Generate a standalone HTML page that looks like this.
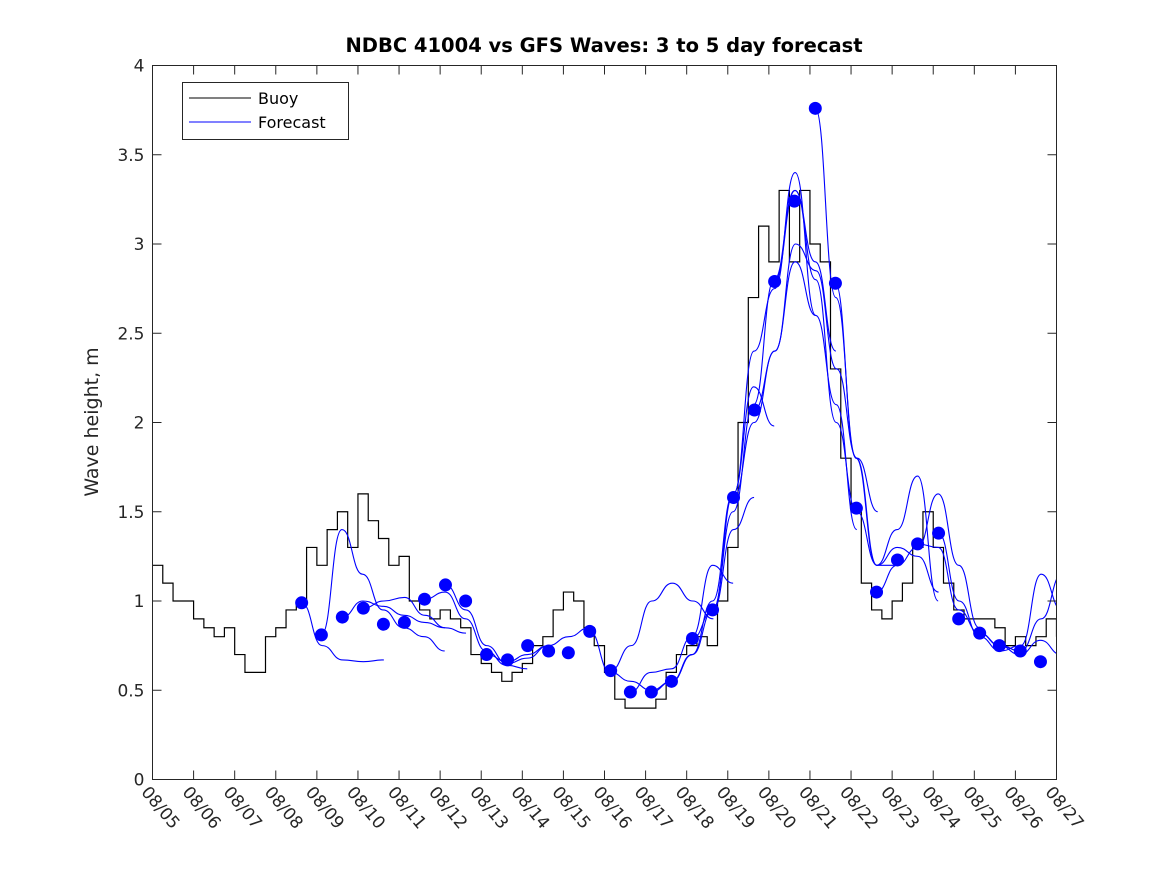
<!DOCTYPE html>
<html><head><meta charset="utf-8"><style>
body{margin:0;background:#fff;}
svg text{font-family:"DejaVu Sans","Liberation Sans",sans-serif;}
</style></head><body>
<svg id="chart" width="1167" height="875" xmlns="http://www.w3.org/2000/svg">
<defs><clipPath id="plotclip"><rect x="152.5" y="65.5" width="904" height="714"/></clipPath></defs>
<rect width="1167" height="875" fill="#fff"/>
<text x="604" y="52" text-anchor="middle" font-size="19.5" font-weight="bold" fill="#000">NDBC 41004 vs GFS Waves: 3 to 5 day forecast</text>
<text transform="translate(98,422) rotate(-90)" text-anchor="middle" font-size="19" fill="#262626">Wave height, m</text>
<g id="buoy" clip-path="url(#plotclip)"></g>
<g id="fc" clip-path="url(#plotclip)"></g>
<g id="dots"></g>
<rect x="152.5" y="65.5" width="904" height="714" fill="none" stroke="#262626" stroke-width="1"/>
<g id="ticks"></g>
<g>
<rect x="182.5" y="82.5" width="166" height="57" fill="#fff" stroke="#262626"/>
<line x1="189" y1="98" x2="251" y2="98" stroke="#000"/>
<text x="258" y="104" font-size="16" fill="#000">Buoy</text>
<line x1="189" y1="122" x2="251" y2="122" stroke="#0000ff"/>
<text x="258" y="128" font-size="16" fill="#000">Forecast</text>
</g>
</svg>
<script>
const xTickLabels=["08/05","08/06","08/07","08/08","08/09","08/10","08/11","08/12","08/13","08/14","08/15","08/16","08/17","08/18","08/19","08/20","08/21","08/22","08/23","08/24","08/25","08/26","08/27"];
const yTicks=[0,0.5,1,1.5,2,2.5,3,3.5,4];
const yTickLabels=["0","0.5","1","1.5","2","2.5","3","3.5","4"];
const buoyStep=0.25;
const buoyValues=[1.2,1.1,1.0,1.0,0.9,0.85,0.8,0.85,0.7,0.6,0.6,0.8,0.85,0.95,1.0,1.3,1.2,1.4,1.5,1.3,1.6,1.45,1.35,1.2,1.25,1.0,0.95,0.9,0.95,0.9,0.85,0.7,0.65,0.6,0.55,0.6,0.65,0.75,0.8,0.95,1.05,1.0,0.85,0.75,0.6,0.45,0.4,0.4,0.4,0.45,0.6,0.7,0.75,0.8,0.75,1.0,1.3,2.0,2.7,3.1,2.9,3.3,2.9,3.3,3.0,2.9,2.3,1.8,1.5,1.1,0.95,0.9,1.0,1.1,1.3,1.5,1.3,1.1,0.95,0.9,0.9,0.9,0.85,0.75,0.8,0.75,0.8,0.9,0.8];
const dotDays=[3.63,4.11,4.62,5.13,5.62,6.13,6.62,7.13,7.62,8.13,8.64,9.13,9.64,10.12,10.64,11.15,11.63,12.14,12.63,13.14,13.63,14.14,14.65,15.14,15.62,16.13,16.62,17.13,17.62,18.13,18.62,19.13,19.62,20.13,20.61,21.12,21.61];
const dotValues=[0.99,0.81,0.91,0.96,0.87,0.88,1.01,1.09,1.0,0.70,0.67,0.75,0.72,0.71,0.83,0.61,0.49,0.49,0.55,0.79,0.95,1.58,2.07,2.79,3.24,3.76,2.78,1.52,1.05,1.23,1.32,1.38,0.90,0.82,0.75,0.72,0.66];
const runStarts=[3.63,4.11,4.62,5.13,6.62,7.13,8.13,10.64,11.15,11.63,12.14,12.63,13.14,13.63,14.14,14.65,15.14,16.13,16.62,17.62,18.62,19.13,20.13,20.61];
const runValues=[
[0.99,0.75,0.67,0.66,0.67],
[0.81,1.4,1.15,0.95,0.85,0.8,0.72],
[0.91,1.0,0.97,0.92,0.88,0.85],
[0.96,1.0,1.02,0.92,0.85,0.82],
[1.01,1.05,0.9,0.72,0.64,0.62],
[1.09,0.95,0.75,0.65,0.68,0.75],
[0.70,0.66,0.7,0.75,0.8,0.85],
[0.83,0.6,0.55,0.5,0.55,0.7],
[0.61,0.75,1.0,1.1,1.0,0.9],
[0.49,0.6,0.62,0.8,1.2,1.1],
[0.49,0.55,0.7,0.95,1.4,1.58],
[0.55,0.7,1.0,1.6,2.2,1.98],
[0.79,0.95,1.6,2.4,2.75,3.4,2.6],
[0.95,1.5,2.1,2.8,3.3,2.9,2.4],
[1.58,2.0,2.4,2.9,2.6,2.1,1.4],
[2.07,2.4,3.0,2.85,2.3,1.8,1.5],
[2.79,3.3,2.8,2.0,1.5,1.2,1.2],
[3.76,2.7,1.8,1.2,1.3,1.25,1.05],
[2.78,1.8,1.2,1.4,1.7,1.0],
[1.05,1.2,1.3,1.6,1.2,0.85],
[1.32,1.3,0.95,0.82,0.75,0.72],
[1.38,1.0,0.8,0.72,0.75,1.15,0.95],
[0.82,0.75,0.72,0.9,1.15,0.85],
[0.75,0.7,0.78,0.7,0.65]];
const runStep=0.5;

const X0=152.5,X1=1056.5,Y0=779.5,Y1=65.5,NS="http://www.w3.org/2000/svg";
const xs=d=>X0+(X1-X0)*d/22;
const ys=v=>Y0-(Y0-Y1)*v/4;
function mk(tag,attrs,parent){const e=document.createElementNS(NS,tag);for(const k in attrs)e.setAttribute(k,attrs[k]);parent.appendChild(e);return e;}
const ticks=document.getElementById('ticks');
xTickLabels.forEach((lab,i)=>{
  const x=xs(i);
  const t1=mk('line',{x1:x,y1:Y0,x2:x,y2:Y0-9,stroke:'#262626'},ticks);
  
  
  const t2=mk('line',{x1:x,y1:Y1,x2:x,y2:Y1+9,stroke:'#262626'},ticks);
  
  
  const t=mk('text',{transform:`translate(${x-12},${Y0+13}) rotate(50)`,'font-size':'17',fill:'#262626'},ticks);
  t.textContent=lab;
  
  
});
yTicks.forEach((v,i)=>{
  const y=ys(v);
  const a=mk('line',{x1:X0,y1:y,x2:X0+9,y2:y,stroke:'#262626'},ticks);
  
  
  const b=mk('line',{x1:X1,y1:y,x2:X1-9,y2:y,stroke:'#262626'},ticks);
  
  
  const t=mk('text',{x:X0-8,y:y+6,'text-anchor':'end','font-size':'17',fill:'#262626'},ticks);
  t.textContent=yTickLabels[i];
  
  
});
let d='';
buoyValues.forEach((v,i)=>{const x=xs(i*buoyStep),y=ys(v);d+=(i?`L${x},${ys(buoyValues[i-1])}L${x},${y}`:`M${x},${y}`);});
d+=`L${xs(22)},${ys(buoyValues[buoyValues.length-1])}`;
const bp=mk('path',{d:d,fill:'none',stroke:'#000','stroke-width':1.2},document.getElementById('buoy'));


const fc=document.getElementById('fc');
runValues.forEach((vals,r)=>{
  const pts=vals.map((v,i)=>[xs(runStarts[r]+i*runStep),ys(v)]);
  let p=`M${pts[0][0]},${pts[0][1]}`;
  for(let i=1;i<pts.length;i++){const a=pts[i-1],b=pts[i];const mx=(a[0]+b[0])/2;p+=`C${mx},${a[1]} ${mx},${b[1]} ${b[0]},${b[1]}`;}
  const e=mk('path',{d:p,fill:'none',stroke:'#0000ff','stroke-width':1.1},fc);
  
  
});
const dots=document.getElementById('dots');
dotDays.forEach((dd,i)=>{
  const c=mk('circle',{cx:xs(dd),cy:ys(dotValues[i]),r:6.5,fill:'#0000ff'},dots);
  
  
});
</script>
</body></html>
